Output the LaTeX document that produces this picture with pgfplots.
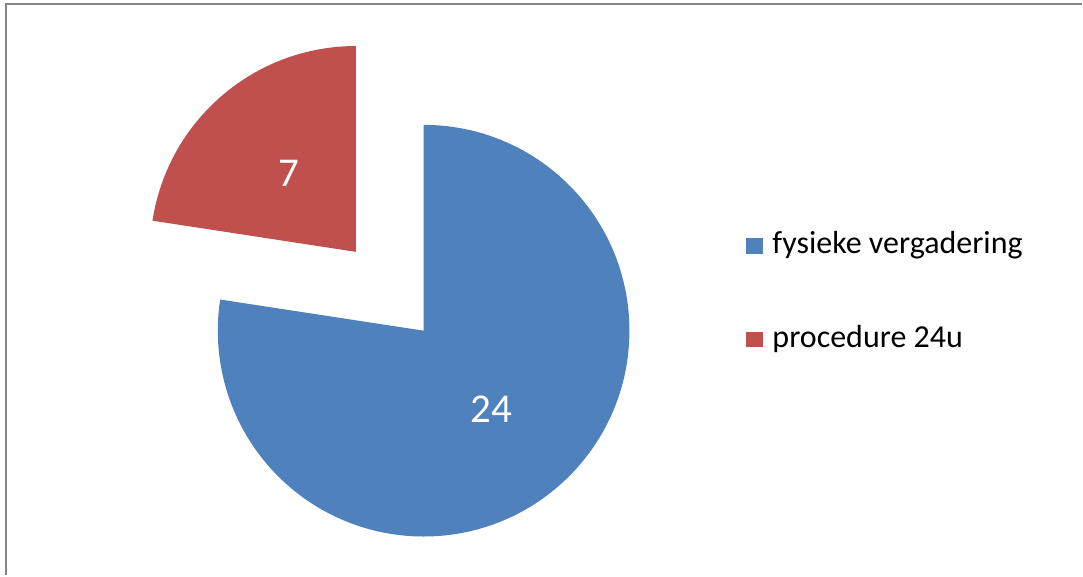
\documentclass[border=0pt]{standalone}
\usepackage{fontspec}
\setmainfont{Carlito}
\usepackage{pgfplots}
\pgfplotsset{compat=1.18}
\definecolor{pieblue}{HTML}{4F81BD}
\definecolor{piered}{HTML}{C0504D}
\definecolor{frame}{RGB}{134,134,134}
\begin{document}
\begin{tikzpicture}
% data
\def\valA{24}% fysieke vergadering
\def\valB{7}% procedure 24u
\pgfmathsetmacro{\tot}{\valA+\valB}
\pgfmathsetmacro{\aS}{90}
\pgfmathsetmacro{\aE}{90-360*\valA/\tot}
\pgfmathsetmacro{\aM}{90-180*\valA/\tot}
\pgfmathsetmacro{\bS}{\aE}
\pgfmathsetmacro{\bE}{-270}
\pgfmathsetmacro{\bM}{(\bS+\bE)/2}
\def\R{206}
\def\cx{424}\def\cy{245}
\pgfmathsetmacro{\ex}{104}
\pgfmathsetmacro{\rcx}{\cx+\ex*cos(\bM)}
\pgfmathsetmacro{\rcy}{\cy+\ex*sin(\bM)}
\pgfmathsetmacro{\lax}{\cx+0.505*\R*cos(\aM)}
\pgfmathsetmacro{\lay}{\cy+0.505*\R*sin(\aM)}
\pgfmathsetmacro{\lbx}{\rcx+0.5*\R*cos(\bM)}
\pgfmathsetmacro{\lby}{\rcy+0.5*\R*sin(\bM)}
\begin{axis}[
  width=1083bp, height=576bp, scale only axis,
  xmin=0, xmax=1083, ymin=0, ymax=576,
  hide axis, clip=false,
]
\addplot[draw=none, forget plot] coordinates {(0,0) (1083,576)};
\fill[white] (axis cs:0,0) rectangle (axis cs:1083,576);
\draw[frame, line width=2bp] (axis cs:6.5,0) -- (axis cs:6.5,571.5) -- (axis cs:1083,571.5);
% blue slice
\fill[pieblue] (axis cs:\cx,\cy) -- ++(\aS:\R bp) arc[start angle=\aS, end angle=\aE, radius=\R bp] -- cycle;
% red slice (exploded)
\fill[piered] (axis cs:\rcx,\rcy) -- ++(\bS:\R bp) arc[start angle=\bS, end angle=\bE, radius=\R bp] -- cycle;
% data labels
\node[white, font=\fontsize{41bp}{49bp}\selectfont] at (axis cs:\lax,\lay) {\valA};
\node[white, font=\fontsize{41bp}{49bp}\selectfont] at (axis cs:\lbx,\lby) {\valB};
% legend
\fill[pieblue] (axis cs:747,322) rectangle (axis cs:764,338);
\fill[piered] (axis cs:747,229) rectangle (axis cs:764,244);
\node[anchor=base west, inner sep=0pt, font=\fontsize{32bp}{38bp}\selectfont] at (axis cs:773,322) {fysieke vergadering};
\node[anchor=base west, inner sep=0pt, font=\fontsize{32bp}{38bp}\selectfont] at (axis cs:773,228) {procedure 24u};
\end{axis}
\end{tikzpicture}
\end{document}
